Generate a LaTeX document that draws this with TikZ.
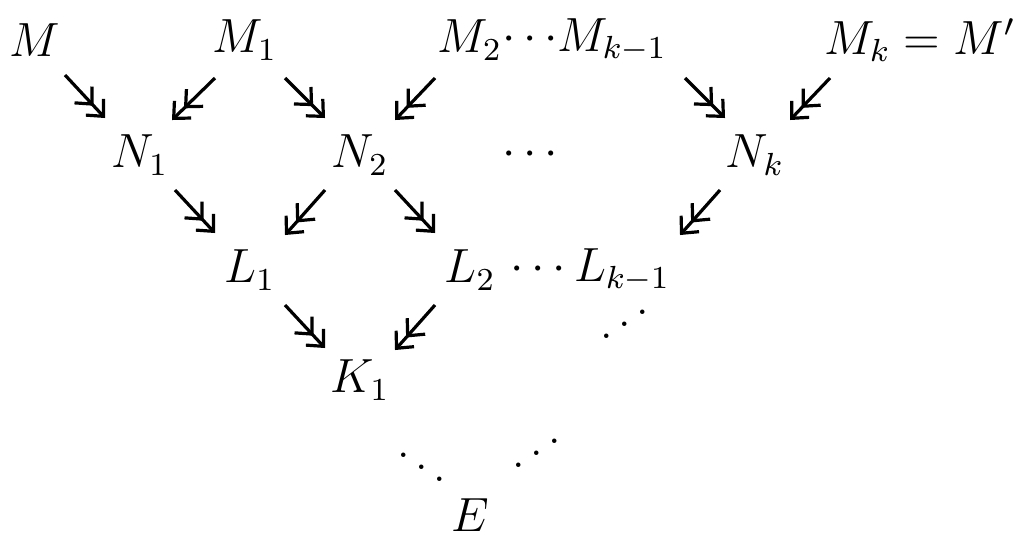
\documentclass[tikz,border=0pt]{standalone}
\usetikzlibrary{arrows.meta}
\newcommand{\myiddots}{\mathinner{\mkern1mu\raise1pt\hbox{.}\mkern2mu\raise4pt\hbox{.}\mkern2mu\raise7pt\hbox{.}\mkern1mu}}
\begin{document}
\begin{tikzpicture}[x=0.25pt,y=-0.25pt,
  every node/.style={font=\fontsize{11.5}{14}\selectfont, inner sep=0pt},
  ar/.style={line width=0.8pt,-{Straight Barb[length=3.2pt,width=6pt]Straight Barb[length=3.2pt,width=6pt]}, shorten >=0pt}]
\useasboundingbox (0,0) rectangle (1024,540);
\node (M) at (35,40) {$M$};
\node (M1) at (245,40) {$M_1$};
\node (M2) at (470,40) {$M_2$};
\node (d1) at (530,40) {$\cdots$};
\node (Mk1) at (612,40) {$M_{k-1}$};
\node (Mk) at (920,40) {$M_k=M'$};
\node (N1) at (140,155) {$N_1$};
\node (N2) at (360,155) {$N_2$};
\node (d2) at (530,155) {$\cdots$};
\node (Nk) at (755,155) {$N_k$};
\node (L1) at (250,270) {$L_1$};
\node (L2) at (470,270) {$L_2$};
\node (d3) at (538,270) {$\cdots$};
\node (Lk1) at (622,270) {$L_{k-1}$};
\node (d4) at (625,326) {$\myiddots$};
\node (K1) at (360,380) {$K_1$};
\node (d5) at (422,455) {$\ddots$};
\node (d6) at (537,455) {$\myiddots$};
\node (E) at (470,515) {$E$};
\coordinate (a1) at (65,75); \coordinate (b1) at (105,118);
\coordinate (a2) at (215,78); \coordinate (b2) at (172,120);
\coordinate (a3) at (285,78); \coordinate (b3) at (325,118);
\coordinate (a4) at (435,78); \coordinate (b4) at (395,120);
\coordinate (a5) at (685,78); \coordinate (b5) at (725,118);
\coordinate (a6) at (830,78); \coordinate (b6) at (790,120);
\coordinate (a7) at (175,190); \coordinate (b7) at (215,233);
\coordinate (a8) at (325,190); \coordinate (b8) at (285,235);
\coordinate (a9) at (395,190); \coordinate (b9) at (435,233);
\coordinate (a10) at (720,190); \coordinate (b10) at (680,235);
\coordinate (a11) at (285,305); \coordinate (b11) at (325,348);
\coordinate (a12) at (435,305); \coordinate (b12) at (395,350);
\foreach \i in {1,...,12} \draw[ar] (a\i) -- (b\i);
\end{tikzpicture}
\end{document}
